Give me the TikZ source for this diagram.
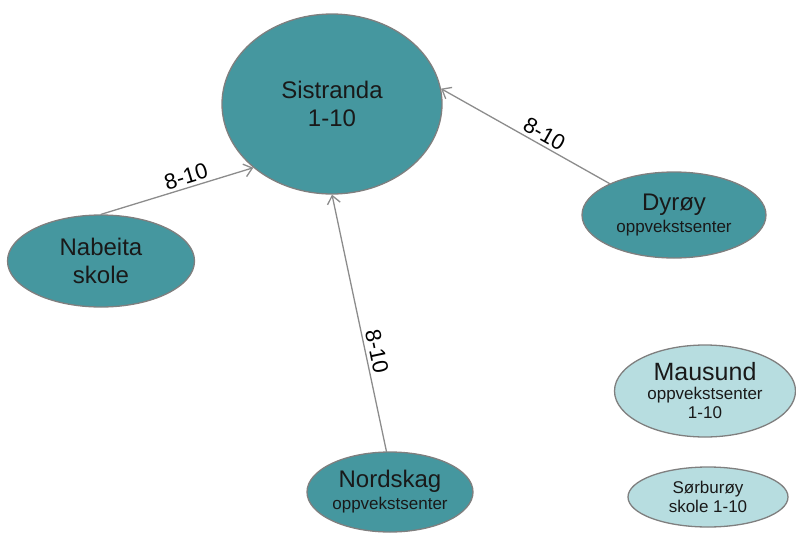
\documentclass[tikz,border=0pt]{standalone}
\usepackage{fontspec}
\setmainfont{Liberation Sans}
\usetikzlibrary{shapes.geometric,arrows.meta}
\definecolor{tealfill}{HTML}{45979F}
\definecolor{lightfill}{HTML}{B7DDE0}
\definecolor{rimgray}{HTML}{7F7F7F}
\newcommand{\bigtxt}{\fontsize{24}{28}\selectfont}
\newcommand{\smalltxt}{\fontsize{17}{19}\selectfont}
\begin{document}
\begin{tikzpicture}[x=1pt,y=-1pt,line join=round,line cap=round,>={Straight Barb[length=8pt,width=13pt]}]
	\tikzset{school/.style={ellipse,draw=rimgray,line width=1.3pt,fill=tealfill,inner sep=0pt,align=center,text=black!90,font=\bigtxt},
		lightschool/.style={school,fill=lightfill,font=\smalltxt},
		link/.style={->,draw=gray!90,line width=1.3pt},
		lbl/.style={sloped,above,font=\fontsize{22}{24}\selectfont,inner sep=3pt}}
	\useasboundingbox (0,0) rectangle (796,536);
	\node[school,minimum width=220pt,minimum height=180pt] (sis) at (332,104) {Sistranda\\1-10};
	\node[school,minimum width=187pt,minimum height=92pt] (nab) at (101,261) {Nabeita\\skole};
	\node[school,minimum width=184pt,minimum height=86pt] (dyr) at (674,215) {Dyrøy\\[-6pt]{\smalltxt oppvekstsenter}};
	\node[school,minimum width=166pt,minimum height=80pt] (nor) at (390,492) {Nordskag\\[-6pt]{\smalltxt oppvekstsenter}};
	\node[lightschool,minimum width=181pt,minimum height=92pt] (mau) at (705,391) {{\fontsize{25}{28}\selectfont Mausund}\\oppvekstsenter\\1-10};
	\node[lightschool,minimum width=160pt,minimum height=60pt] (sor) at (708,497) {Sørburøy\\skole 1-10};
	% forbindelser
	\draw[link] (nab.north) -- node[lbl,pos=0.58] {8-10} (sis.219);
	\draw[link] (dyr.154) -- node[lbl,pos=0.42] {8-10} (sis.8);
	\draw[link] (nor.95) -- node[lbl,pos=0.38] {8-10} (sis.south);
\end{tikzpicture}
\end{document}
